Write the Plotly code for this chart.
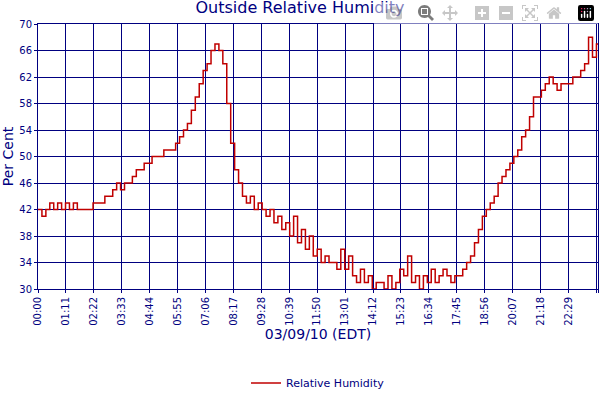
import plotly.graph_objects as go

humidity = [42,41,42,43,42,43,42,43,42,43,42,42,42,42,
            43,43,43,44,44,45,46,45,46,
            46,47,48,48,49,49,50,
            50,50,51,51,51,52,
            53,54,55,57,59,61,63,64,66,67,66,64,58,52,48,46,44,43,44,42,
            43,42,41,42,40,41,39,40,38,41,37,39,36,38,35,36,34,35,34,34,
            33,36,33,35,32,31,33,31,32,30,31,31,30,32,30,31,33,32,35,31,
            32,30,32,31,33,31,32,33,32,31,32,32,33,34,35,37,39,41,42,43,
            44,46,47,48,49,50,51,53,54,56,59,59,60,61,62,61,60,61,61,61,
            62,62,63,64,68,65,67,67]
minutes = [10 * i for i in range(len(humidity) - 1)] + [1424]
tick_vals = [0,71,142,213,284,355,426,497,568,639,710,781,852,923,994,1065,1136,1207,1278,1349,1420,1424]
tick_text = ["00:00","01:11","02:22","03:33","04:44","05:55","07:06","08:17","09:28","10:39","11:50",
             "13:01","14:12","15:23","16:34","17:45","18:56","20:07","21:18","22:29","23:40","23:44"]

navy = "#000080"
fig = go.Figure(go.Scatter(x=minutes, y=humidity, mode="lines", line=dict(color="#c00000", width=1.5, shape="hv"),
                           name="Relative Humidity"))
fig.update_layout(
    width=600, height=400, paper_bgcolor="white", plot_bgcolor="white",
    margin=dict(l=38, r=2, t=24, b=80),
    font=dict(family="DejaVu Sans", color=navy, size=10),
    title=dict(text="Outside Relative Humidity", x=0.5, xanchor="center", y=0.995, yanchor="top",
               font=dict(size=16, color=navy)),
    showlegend=True,
    legend=dict(orientation="h", x=0.5, xanchor="center", y=-0.3, yanchor="top", font=dict(size=11, color=navy)),
)
fig.update_xaxes(range=[0,1424], tickvals=tick_vals, ticktext=tick_text, tickangle=-90,
                 showgrid=True, gridcolor=navy, gridwidth=1, showline=True, linecolor=navy, mirror=True,
                 title=dict(text="03/09/10 (EDT)", font=dict(size=14, color=navy), standoff=4),
                 ticks="outside", ticklen=3, tickcolor=navy)
fig.update_yaxes(range=[30,70], tick0=30, dtick=4, showgrid=True, gridcolor=navy, gridwidth=1, showline=True,
                 linecolor=navy, mirror=True, title=dict(text="Per Cent", font=dict(size=14, color=navy), standoff=2),
                 ticks="outside", ticklen=3, tickcolor=navy)
fig.write_html("out.html", post_script="document.body.style.margin='0';")
